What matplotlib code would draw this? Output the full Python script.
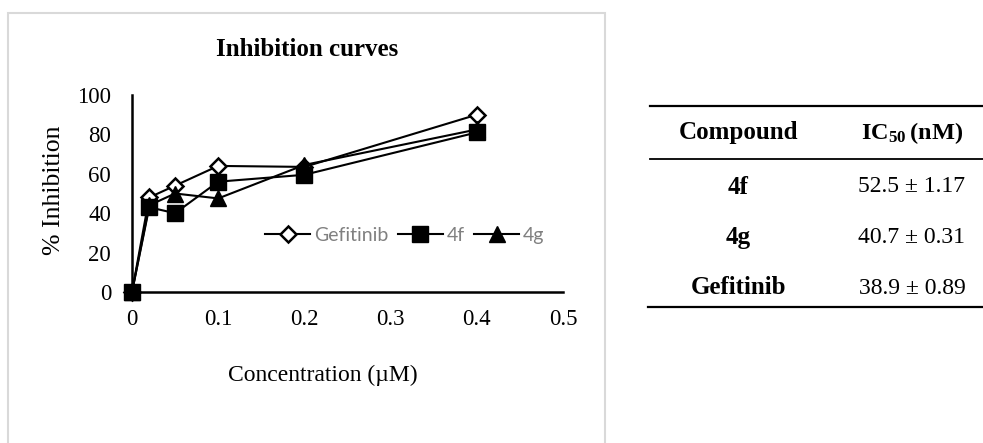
import matplotlib
matplotlib.use("Agg")
import matplotlib.pyplot as plt
from matplotlib.patches import Rectangle
from matplotlib.lines import Line2D

# inhibition data
conc = [0, 0.02, 0.05, 0.1, 0.2, 0.4]
gefitinib = [0, 48, 54, 64, 63.5, 90]
cpd_4f = [0, 43, 40, 56, 59.5, 81]
cpd_4g = [0, 44, 50, 47.5, 64.5, 82.5]

# table data
table_compounds = ["4f", "4g", "Gefitinib"]
table_ic50 = [52.5, 40.7, 38.9]
table_err = [1.17, 0.31, 0.89]

W, H = 983, 443

plt.rcParams["mathtext.fontset"] = "custom"
plt.rcParams["mathtext.rm"] = "Liberation Serif"
plt.rcParams["mathtext.bf"] = "Liberation Serif:bold"

fig = plt.figure(figsize=(W / 100, H / 100), dpi=100)


def fx(px):
    return px / W


def fy(py):
    return 1 - py / H


# light grey frame around the chart area
fig.patches.append(Rectangle((fx(8), fy(460)), fx(605) - fx(8), fy(13) - fy(460),
                             transform=fig.transFigure, fill=False,
                             edgecolor="#d9d9d9", linewidth=1.5))

ax = fig.add_axes([fx(132), fy(292), fx(563) - fx(132), fy(95) - fy(292)])
ax.set_xlim(0, 0.5)
ax.set_ylim(0, 100)

serif = "Liberation Serif"
ax.plot(conc, gefitinib, color="black", lw=1.5, marker="D", markersize=8.5,
        markerfacecolor="white", markeredgecolor="black", markeredgewidth=1.8,
        label="Gefitinib", clip_on=False, zorder=3)
ax.plot(conc, cpd_4f, color="black", lw=1.5, marker="s", markersize=11.5,
        markerfacecolor="black", markeredgecolor="black",
        label="4f", clip_on=False, zorder=4)
ax.plot(conc, cpd_4g, color="black", lw=1.5, marker="^", markersize=11.5,
        markerfacecolor="black", markeredgecolor="black",
        label="4g", clip_on=False, zorder=3)

for side in ["top", "right"]:
    ax.spines[side].set_visible(False)
for side in ["left", "bottom"]:
    ax.spines[side].set_linewidth(1.8)

ax.set_xticks([0, 0.1, 0.2, 0.3, 0.4, 0.5])
ax.set_xticklabels(["0", "0.1", "0.2", "0.3", "0.4", "0.5"])
ax.set_yticks([0, 20, 40, 60, 80, 100])
ax.tick_params(axis="y", length=0, pad=15, labelsize=16.5)
ax.tick_params(axis="x", length=0, pad=12, labelsize=16.5)
for lab in ax.get_xticklabels() + ax.get_yticklabels():
    lab.set_fontfamily(serif)

fig.text(fx(307), fy(50), "Inhibition curves", ha="center", va="center",
         fontsize=18, fontweight="bold", family=serif)
fig.text(fx(54), fy(190), "% Inhibition", ha="center", va="center",
         rotation=90, fontsize=18.5, family=serif)
fig.text(fx(323), fy(375), "Concentration (\u00b5M)", ha="center", va="center",
         fontsize=17, family=serif)

leg = ax.legend(loc="center", bbox_to_anchor=(0.633, 0.289), ncol=3,
                frameon=False, handlelength=2.3, handletextpad=0.2,
                columnspacing=0.5, prop={"family": "Lato", "size": 14})
for t in leg.get_texts():
    t.set_color("#808080")

# IC50 table on the right
fig.add_artist(Line2D([fx(650), fx(983)], [fy(106), fy(106)], color="black", lw=1.6))
fig.add_artist(Line2D([fx(650), fx(983)], [fy(159), fy(159)], color="black", lw=1.3))
fig.add_artist(Line2D([fx(648), fx(983)], [fy(307), fy(307)], color="black", lw=1.6))

col1, col2 = 738, 912
fig.text(fx(col1), fy(133), "Compound", ha="center", va="center",
         fontsize=18, fontweight="bold", family=serif)
fig.text(fx(col2), fy(133), r"$\mathbf{IC_{50}\,(nM)}$", ha="center", va="center",
         fontsize=17.5)
row_y = [187, 237, 288]
for name, val, err, yy in zip(table_compounds, table_ic50, table_err, row_y):
    fig.text(fx(col1), fy(yy), name, ha="center", va="center",
             fontsize=18, fontweight="bold", family=serif)
    fig.text(fx(col2), fy(yy), f"{val:.1f} \u00b1 {err:.2f}", ha="center", va="center",
             fontsize=17, family=serif)

fig.savefig("out.png", dpi=100)
